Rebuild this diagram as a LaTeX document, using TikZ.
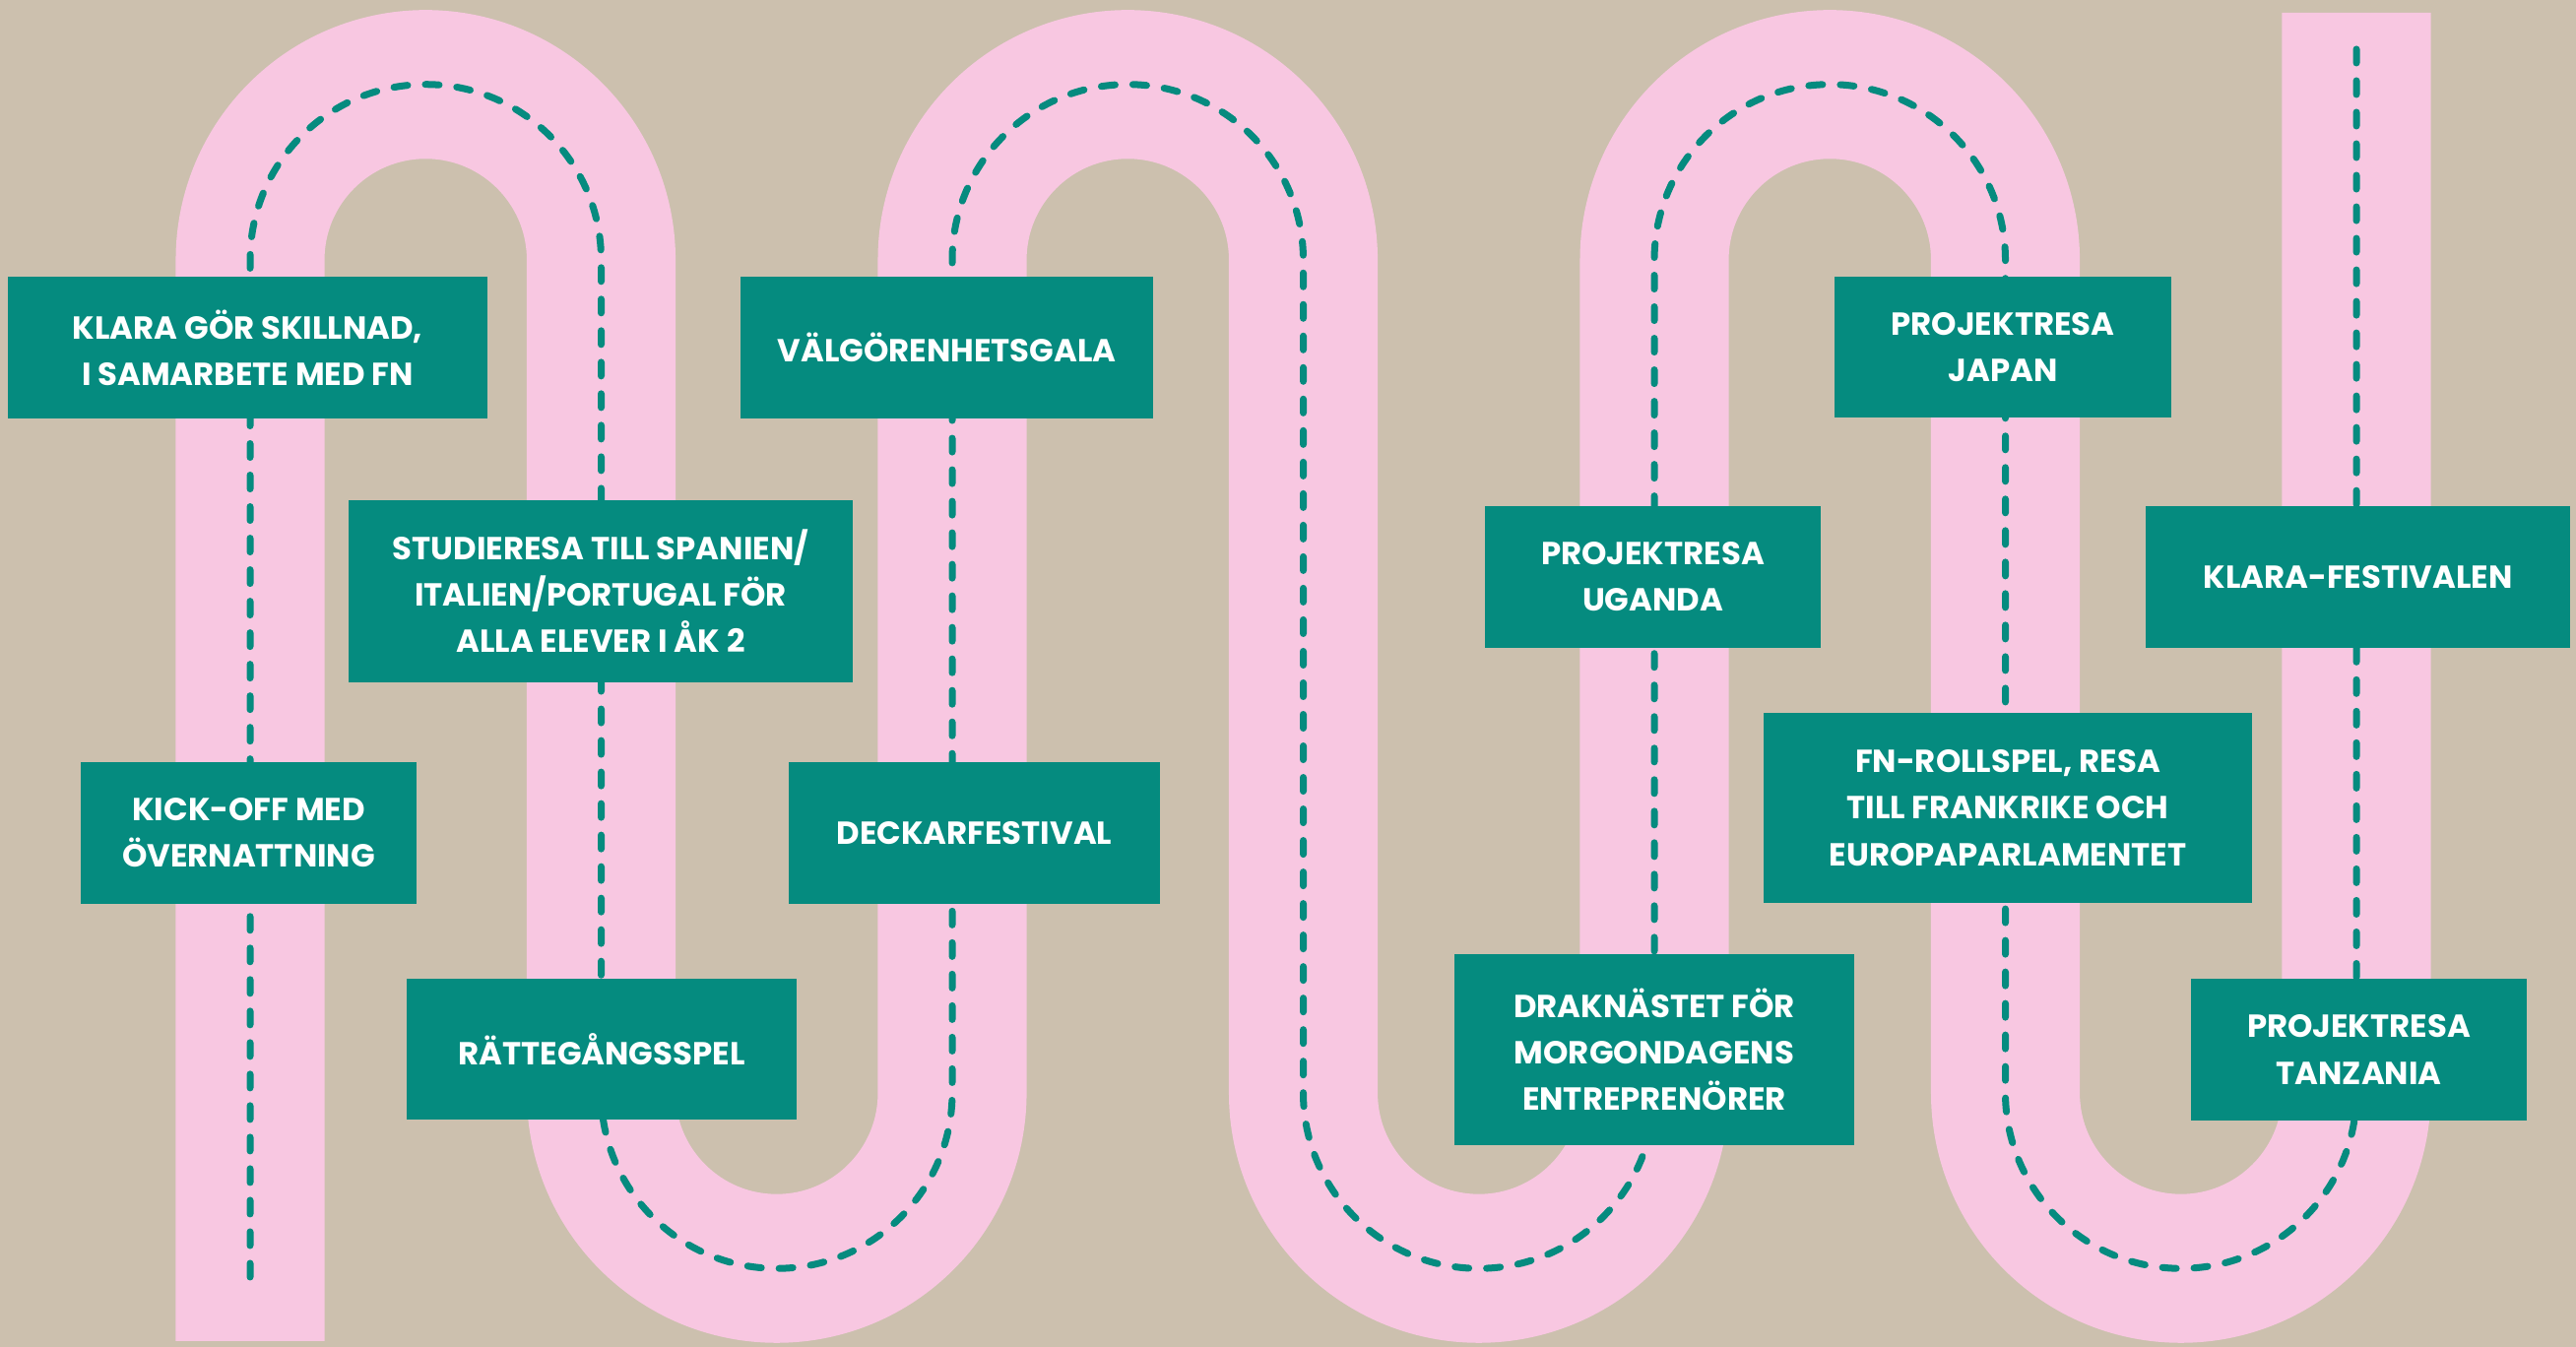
\documentclass[tikz,border=0pt]{standalone}
\usepackage{fontspec}
\setmainfont{Poppins}
\definecolor{paper}{RGB}{204,192,174}
\definecolor{road}{RGB}{248,199,225}
\definecolor{boxteal}{RGB}{5,139,127}
\begin{document}
\begin{tikzpicture}[x=0.01cm,y=0.01cm,
  roadband/.style={draw=road,line width=1.51cm,line cap=butt},
  centerline/.style={draw=boxteal,line width=0.07cm,line cap=round,dash pattern=on 0.14cm off 0.18cm},
  evbox/.style={rectangle,fill=boxteal,text=white,inner sep=0pt,align=center,
    font=\fontsize{9.2}{13.4}\selectfont\bfseries}]
\fill[paper] (0,0) rectangle (2616,1368);
\useasboundingbox (0,0) rectangle (2616,1368);
% road
\draw[roadband] (254,6) -- (254,1104) arc[start angle=180,end angle=0,radius=178.25]
  -- (610.5,258) arc[start angle=180,end angle=360,radius=178.25]
  -- (967,1104) arc[start angle=180,end angle=0,radius=178.25]
  -- (1323.5,258) arc[start angle=180,end angle=360,radius=178.25]
  -- (1680,1104) arc[start angle=180,end angle=0,radius=178.25]
  -- (2036.5,258) arc[start angle=180,end angle=360,radius=178.25]
  -- (2393,1355);
\draw[centerline] (254,71) -- (254,1104) arc[start angle=180,end angle=0,radius=178.25]
  -- (610.5,258) arc[start angle=180,end angle=360,radius=178.25]
  -- (967,1104) arc[start angle=180,end angle=0,radius=178.25]
  -- (1323.5,258) arc[start angle=180,end angle=360,radius=178.25]
  -- (1680,1104) arc[start angle=180,end angle=0,radius=178.25]
  -- (2036.5,258) arc[start angle=180,end angle=360,radius=178.25]
  -- (2393,1323);
% boxes
\node[evbox,minimum width=4.87cm,minimum height=1.44cm] (b1) at (251.5,1015) {KLARA GÖR SKILLNAD,\\I SAMARBETE MED FN};
\node[evbox,minimum width=5.12cm,minimum height=1.85cm] (b2) at (610,767.5) {STUDIERESA TILL SPANIEN/\\ITALIEN/PORTUGAL FÖR\\ALLA ELEVER I ÅK 2};
\node[evbox,minimum width=3.41cm,minimum height=1.44cm] (b3) at (252.5,522) {KICK-OFF MED\\ÖVERNATTNING};
\node[evbox,minimum width=3.96cm,minimum height=1.43cm] (b4) at (611,302.5) {RÄTTEGÅNGSSPEL};
\node[evbox,minimum width=4.19cm,minimum height=1.44cm] (b5) at (961.5,1015) {VÄLGÖRENHETSGALA};
\node[evbox,minimum width=3.77cm,minimum height=1.44cm] (b6) at (989.5,522) {DECKARFESTIVAL};
\node[evbox,minimum width=3.41cm,minimum height=1.44cm] (b7) at (1678.5,782) {PROJEKTRESA\\UGANDA};
\node[evbox,minimum width=4.06cm,minimum height=1.94cm] (b8) at (1680,302) {DRAKNÄSTET FÖR\\MORGONDAGENS\\ENTREPRENÖRER};
\node[evbox,minimum width=3.42cm,minimum height=1.43cm] (b9) at (2034,1015.5) {PROJEKTRESA\\JAPAN};
\node[evbox,minimum width=4.96cm,minimum height=1.93cm] (b10) at (2039,547.5) {FN-ROLLSPEL, RESA\\TILL FRANKRIKE OCH\\EUROPAPARLAMENTET};
\node[evbox,minimum width=4.31cm,minimum height=1.44cm] (b11) at (2394.5,782) {KLARA-FESTIVALEN};
\node[evbox,minimum width=3.41cm,minimum height=1.44cm] (b12) at (2395.5,302) {PROJEKTRESA\\TANZANIA};
\end{tikzpicture}
\end{document}
